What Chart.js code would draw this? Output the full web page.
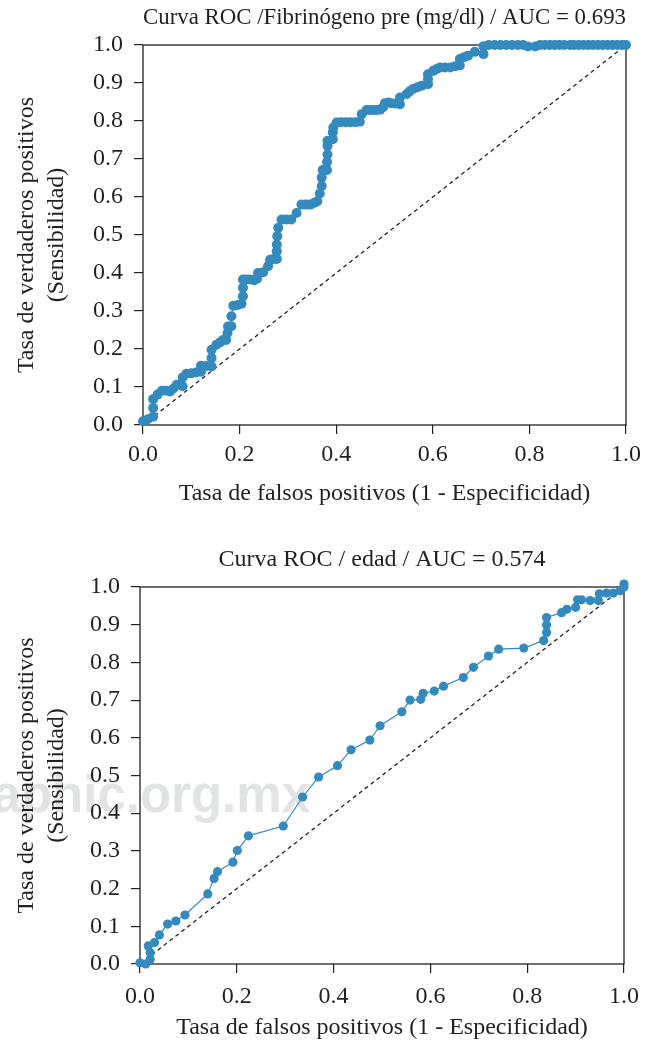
<!DOCTYPE html>
<html>
<head>
<meta charset="utf-8">
<script src="https://cdn.jsdelivr.net/npm/chart.js@4/dist/chart.umd.min.js"></script>
<style>
  body { margin: 0; width: 653px; height: 1041px; position: relative; background: #fff; overflow: hidden; }
  .wm { position: absolute; right: 343px; top: 770px; font: bold 51px 'Liberation Sans'; line-height: 50px; color: #e2e3e5; white-space: nowrap; }
  canvas { position: absolute; left: 0; }
  #rocFib { top: 0; }
  #rocEdad { top: 530px; }
</style>
</head>
<body>
<div class="wm">www.medigraphic.org.mx</div>
<canvas id="rocFib" width="653" height="520"></canvas>
<canvas id="rocEdad" width="653" height="511"></canvas>
<script>
// ROC - Fibrinógeno pre (mg/dl)
const fibFpr = [0.000, 0.010, 0.021, 0.021, 0.021, 0.030, 0.039, 0.048, 0.056, 0.063, 0.070, 0.082, 0.082, 0.090, 0.100,
  0.110, 0.120, 0.120, 0.131, 0.142, 0.142, 0.142, 0.152, 0.160, 0.166, 0.172, 0.175, 0.176, 0.183, 0.183,
  0.187, 0.196, 0.204, 0.207, 0.207, 0.207, 0.214, 0.222, 0.230, 0.236, 0.238, 0.249, 0.259, 0.263, 0.270,
  0.277, 0.277, 0.277, 0.278, 0.280, 0.287, 0.297, 0.307, 0.318, 0.328, 0.337, 0.346, 0.355, 0.361, 0.366,
  0.370, 0.370, 0.372, 0.381, 0.381, 0.382, 0.382, 0.382, 0.393, 0.393, 0.394, 0.401, 0.410, 0.420, 0.430,
  0.440, 0.449, 0.453, 0.463, 0.470, 0.477, 0.484, 0.491, 0.497, 0.501, 0.508, 0.514, 0.523, 0.532, 0.532,
  0.546, 0.552, 0.559, 0.568, 0.577, 0.590, 0.590, 0.590, 0.601, 0.608, 0.615, 0.625, 0.636, 0.646, 0.656,
  0.656, 0.665, 0.673, 0.687, 0.705, 0.705, 0.716, 0.728, 0.740, 0.752, 0.764, 0.776, 0.787, 0.797, 0.812,
  0.822, 0.832, 0.842, 0.852, 0.862, 0.872, 0.884, 0.892, 0.902, 0.912, 0.922, 0.932, 0.942, 0.952, 0.962,
  0.972, 0.982, 0.992, 1.000];
const fibTpr = [0.010, 0.015, 0.022, 0.045, 0.068, 0.080, 0.090, 0.090, 0.088, 0.096, 0.106, 0.102, 0.125, 0.135, 0.136,
  0.138, 0.140, 0.156, 0.155, 0.154, 0.176, 0.198, 0.211, 0.218, 0.224, 0.224, 0.242, 0.259, 0.260, 0.286,
  0.314, 0.316, 0.319, 0.339, 0.361, 0.383, 0.383, 0.383, 0.381, 0.385, 0.400, 0.402, 0.418, 0.435, 0.437,
  0.437, 0.457, 0.475, 0.497, 0.519, 0.541, 0.541, 0.541, 0.558, 0.580, 0.580, 0.580, 0.585, 0.589, 0.609,
  0.629, 0.651, 0.671, 0.671, 0.692, 0.712, 0.734, 0.748, 0.752, 0.770, 0.783, 0.796, 0.797, 0.797, 0.797,
  0.797, 0.798, 0.818, 0.829, 0.829, 0.829, 0.829, 0.830, 0.836, 0.847, 0.849, 0.847, 0.846, 0.844, 0.862,
  0.871, 0.878, 0.884, 0.889, 0.893, 0.897, 0.910, 0.923, 0.932, 0.937, 0.941, 0.941, 0.941, 0.944, 0.946,
  0.963, 0.968, 0.972, 0.982, 0.976, 0.997, 1.000, 1.000, 1.000, 1.000, 1.000, 1.000, 1.000, 0.996, 0.996,
  1.000, 1.000, 1.000, 1.000, 1.000, 1.000, 1.000, 1.000, 1.000, 1.000, 1.000, 1.000, 1.000, 1.000, 1.000,
  1.000, 1.000, 1.000, 1.000];

// ROC - edad
const edadFpr = [0.000, 0.012, 0.021, 0.021, 0.017, 0.030, 0.040, 0.057, 0.074, 0.093, 0.140, 0.153, 0.160, 0.192, 0.201,
  0.224, 0.296, 0.336, 0.369, 0.408, 0.436, 0.475, 0.496, 0.541, 0.558, 0.580, 0.585, 0.608, 0.627, 0.668,
  0.689, 0.720, 0.741, 0.793, 0.834, 0.840, 0.840, 0.840, 0.871, 0.882, 0.900, 0.904, 0.912, 0.930, 0.947,
  0.949, 0.964, 0.978, 0.992, 1.000, 1.000];
const edadTpr = [0.003, 0.000, 0.012, 0.030, 0.048, 0.057, 0.077, 0.106, 0.114, 0.130, 0.186, 0.227, 0.245, 0.270, 0.301,
  0.340, 0.366, 0.443, 0.496, 0.526, 0.568, 0.594, 0.632, 0.669, 0.700, 0.702, 0.718, 0.724, 0.737, 0.760,
  0.787, 0.817, 0.835, 0.838, 0.858, 0.879, 0.899, 0.919, 0.932, 0.941, 0.946, 0.966, 0.966, 0.964, 0.964,
  0.982, 0.984, 0.984, 0.990, 1.000, 1.008];

// reference diagonal
const chanceX = [0, 1];
const chanceY = [0, 1];

const xTickValues = [0, 0.2, 0.4, 0.6, 0.8, 1.0];
const yTickValues = [0, 0.1, 0.2, 0.3, 0.4, 0.5, 0.6, 0.7, 0.8, 0.9, 1.0];

const serif = 'Liberation Serif';
const ink = '#231f20';
const blue = '#348ABD';

// box around the plot area (drawn under the markers)
const frame = {
  id: 'frame',
  beforeDatasetsDraw(chart) {
    const { ctx, chartArea: a } = chart;
    ctx.save();
    ctx.strokeStyle = ink;
    ctx.lineWidth = 1.3;
    ctx.strokeRect(a.left, a.top, a.right - a.left, a.bottom - a.top);
    ctx.restore();
  }
};

function toPoints(xs, ys) {
  return xs.map((x, i) => ({ x: x, y: ys[i] }));
}

function rocChart(id, title, fpr, tpr, lay) {
  const ctx = document.getElementById(id).getContext('2d');
  return new Chart(ctx, {
    type: 'scatter',
    data: {
      datasets: [{
        data: toPoints(fpr, tpr),
        showLine: true,
        borderColor: blue,
        borderWidth: 1.2,
        backgroundColor: blue,
        pointRadius: lay.dot,
        pointBorderWidth: 0,
        clip: false
      }, {
        data: toPoints(chanceX, chanceY),
        showLine: true,
        borderColor: ink,
        borderWidth: 1.3,
        borderDash: [4, 3.5],
        pointRadius: 0,
        clip: false
      }]
    },
    options: {
      responsive: false,
      animation: false,
      events: [],
      layout: { padding: { left: 0, right: lay.right, top: 0, bottom: 0 } },
      plugins: {
        legend: { display: false },
        tooltip: { enabled: false }
      },
      scales: {
        // top axis only carries the title, centred over the plot
        top: {
          type: 'linear',
          position: 'top',
          min: 0, max: 1,
          afterFit: s => { s.height = lay.topHeight; },
          border: { display: false },
          grid: { display: false },
          ticks: { display: false },
          title: { display: true, text: title, color: ink,
            font: { family: serif, size: lay.titleSize, lineHeight: 1.2 }, padding: { top: lay.titleTop, bottom: 0 } }
        },
        x: {
          type: 'linear',
          position: 'bottom',
          min: 0, max: 1,
          afterBuildTicks: s => { s.ticks = xTickValues.map(v => ({ value: v })); },
          afterFit: s => { s.height = lay.xHeight; },
          border: { display: false },
          grid: { drawOnChartArea: false, drawTicks: true, tickLength: 9, color: ink, lineWidth: 1.2 },
          ticks: { color: ink, padding: lay.xPad, maxRotation: 0, font: { family: serif, size: 24 },
            callback: v => v.toFixed(1) },
          title: { display: true, text: 'Tasa de falsos positivos (1 - Especificidad)', color: ink,
            font: { family: serif, size: 24, lineHeight: 1 }, padding: { top: 0, bottom: lay.xTitleBottom } }
        },
        y: {
          type: 'linear',
          min: 0, max: 1,
          afterBuildTicks: s => { s.ticks = yTickValues.map(v => ({ value: v })); },
          afterFit: s => { s.width = lay.yWidth; },
          border: { display: false },
          grid: { drawOnChartArea: false, drawTicks: true, tickLength: 9, color: ink, lineWidth: 1.2 },
          ticks: { color: ink, padding: 11, font: { family: serif, size: 24 },
            callback: v => v.toFixed(1) },
          title: { display: true, text: ['Tasa de verdaderos positivos', '(Sensibilidad)'], color: ink,
            font: { family: serif, size: 24, lineHeight: 1.25 }, padding: { top: 12, bottom: 0 } }
        }
      }
    },
    plugins: [frame]
  });
}

rocChart('rocFib', 'Curva ROC /Fibrinógeno pre (mg/dl) / AUC = 0.693', fibFpr, fibTpr,
  { right: 27, topHeight: 45, titleTop: 4, titleSize: 23, xHeight: 95, xPad: 6, xTitleBottom: 14, yWidth: 143, dot: 5 });
rocChart('rocEdad', 'Curva ROC / edad / AUC = 0.574', edadFpr, edadTpr,
  { right: 29, topHeight: 57, titleTop: 15, titleSize: 24, xHeight: 77, xPad: 9, xTitleBottom: 1, yWidth: 140, dot: 4.6 });
</script>
</body>
</html>
